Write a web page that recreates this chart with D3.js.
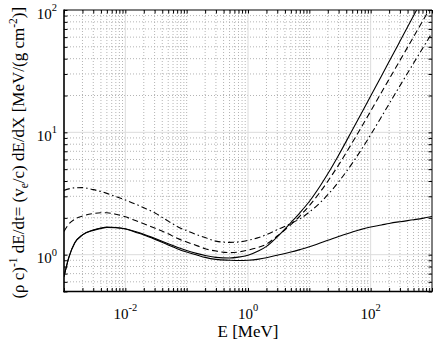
<!DOCTYPE html>
<html><head><meta charset="utf-8">
<script src="https://cdn.jsdelivr.net/npm/d3@7"></script>
<style>body{margin:0;background:#fff} svg{display:block} text{font-family:"Liberation Serif","Times New Roman",Times,serif}</style>
</head><body><svg id="chart" width="436" height="344"></svg>
<script>
// ---- data ----
const energy = [0.001, 0.0012, 0.0015, 0.002, 0.003, 0.004, 0.005, 0.007, 0.01, 0.015, 0.02, 0.03, 0.05, 0.07, 0.1, 0.15, 0.2, 0.3, 0.5, 0.7, 1, 1.5, 2, 3, 5, 7, 10, 15, 20, 30, 50, 70, 100, 150, 200, 300, 500, 700, 1000];
const lossSolidLow = [0.66, 0.95, 1.25, 1.45, 1.58, 1.64, 1.67, 1.66, 1.62, 1.52, 1.45, 1.34, 1.20, 1.12, 1.05, 0.99, 0.95, 0.915, 0.90, 0.895, 0.90, 0.92, 0.945, 0.99, 1.05, 1.10, 1.16, 1.245, 1.31, 1.41, 1.53, 1.61, 1.685, 1.75, 1.80, 1.86, 1.93, 1.98, 2.05];
const lossSolidHigh = [0.66, 0.95, 1.25, 1.45, 1.59, 1.65, 1.68, 1.67, 1.63, 1.54, 1.47, 1.36, 1.23, 1.15, 1.08, 1.02, 0.985, 0.95, 0.94, 0.955, 0.99, 1.075, 1.17, 1.40, 1.83, 2.2, 2.72, 3.64, 4.58, 6.5, 10.4, 14.2, 19.8, 28.9, 37.9, 55.5, 89.7, 123, 172];
const lossDashed = [1.55, 1.78, 1.95, 2.07, 2.17, 2.2, 2.2, 2.14, 2.04, 1.89, 1.79, 1.65, 1.48, 1.36, 1.27, 1.18, 1.12, 1.07, 1.04, 1.05, 1.09, 1.15, 1.22, 1.42, 1.76, 2.07, 2.52, 3.25, 3.98, 5.41, 8.23, 10.95, 14.9, 21.2, 27.2, 38.7, 60.3, 80.8, 110];
const lossDashDot = [3.35, 3.45, 3.52, 3.53, 3.40, 3.28, 3.17, 2.99, 2.80, 2.58, 2.42, 2.2, 1.88, 1.70, 1.57, 1.45, 1.38, 1.29, 1.26, 1.27, 1.31, 1.38, 1.46, 1.60, 1.80, 1.96, 2.23, 2.66, 3.09, 3.94, 5.58, 7.18, 9.55, 13.4, 17.1, 24.0, 36.7, 48.4, 64.9];
const xDomain = [1e-3, 1e3];
const yDomain = [0.5, 100];
const xTickValues = [1e-2, 1, 1e2];
const xTickExponents = ["-2", "0", "2"];
const yTickValues = [1, 10, 100];
const yTickExponents = ["0", "1", "2"];
const xLabel = "E [MeV]";

// ---- layout ----
const L = 64, R = 432, T = 10, B = 291.5;
const FONT = '"Liberation Serif","Times New Roman",Times,serif';
const svg = d3.select("#chart");
const x = d3.scaleLog().domain(xDomain).range([L, R]);
const y = d3.scaleLog().domain(yDomain).range([B, T]);

// minor tick positions
const xAll = [];
for (let k = -3; k <= 2; k++) for (let m = 1; m <= 9; m++) xAll.push(m * Math.pow(10, k));
xAll.push(1000);
const yAll = [];
for (let k = -1; k <= 1; k++) for (let m = 1; m <= 9; m++) { const v = m * Math.pow(10, k); if (v >= 0.5) yAll.push(v); }
yAll.push(100);
const isMajor = (v, arr) => arr.some(t => Math.abs(Math.log10(v) - Math.log10(t)) < 1e-6);

// grid
const g = svg.append("g");
xAll.filter(v => !isMajor(v, xTickValues) && v > xDomain[0] * 1.001 && v < xDomain[1] * 0.999).forEach(v => {
  g.append("line").attr("x1", x(v)).attr("x2", x(v)).attr("y1", T).attr("y2", B)
    .attr("stroke", "#b4b4b4").attr("stroke-width", 1).attr("stroke-dasharray", "1,2");
});
yAll.filter(v => !isMajor(v, yTickValues) && v > yDomain[0] * 1.001 && v < yDomain[1] * 0.999).forEach(v => {
  g.append("line").attr("y1", y(v)).attr("y2", y(v)).attr("x1", L).attr("x2", R)
    .attr("stroke", "#b4b4b4").attr("stroke-width", 1).attr("stroke-dasharray", "1,2");
});
xTickValues.forEach(v => {
  g.append("line").attr("x1", x(v)).attr("x2", x(v)).attr("y1", T).attr("y2", B)
    .attr("stroke", "#dcdcdc").attr("stroke-width", 1);
});
yTickValues.filter(v => v < yDomain[1]).forEach(v => {
  g.append("line").attr("y1", y(v)).attr("y2", y(v)).attr("x1", L).attr("x2", R)
    .attr("stroke", "#dcdcdc").attr("stroke-width", 1);
});

// curves
svg.append("clipPath").attr("id", "clip").append("rect")
  .attr("x", L).attr("y", T).attr("width", R - L).attr("height", B - T);
const line = d3.line().x(d => x(d[0])).y(d => y(d[1])).curve(d3.curveMonotoneX);
const series = [
  { v: lossSolidLow, dash: null },
  { v: lossSolidHigh, dash: null },
  { v: lossDashed, dash: "6,3.5" },
  { v: lossDashDot, dash: "6,3,1.5,3" }
];
const cg = svg.append("g").attr("clip-path", "url(#clip)");
series.forEach(s => {
  cg.append("path").datum(energy.map((e, i) => [e, s.v[i]]))
    .attr("d", line).attr("fill", "none").attr("stroke", "#000")
    .attr("stroke-width", 1.1).attr("stroke-dasharray", s.dash);
});

// axes (inward ticks on all sides)
const tk = 3.5;
const styleAxis = sel => { sel.select(".domain").remove(); sel.selectAll("line").attr("stroke", "#000").attr("stroke-width", 1); sel.selectAll("text").remove(); };
svg.append("g").attr("transform", `translate(0,${B})`)
  .call(d3.axisBottom(x).tickValues(xAll).tickSize(-tk).tickFormat(() => "")).call(styleAxis);
svg.append("g").attr("transform", `translate(0,${T})`)
  .call(d3.axisTop(x).tickValues(xAll).tickSize(-tk).tickFormat(() => "")).call(styleAxis);
svg.append("g").attr("transform", `translate(${L},0)`)
  .call(d3.axisLeft(y).tickValues(yAll).tickSize(-tk).tickFormat(() => "")).call(styleAxis);
svg.append("g").attr("transform", `translate(${R},0)`)
  .call(d3.axisRight(y).tickValues(yAll).tickSize(-tk).tickFormat(() => "")).call(styleAxis);

// box
svg.append("line").attr("x1", L).attr("x2", R).attr("y1", T).attr("y2", T).attr("stroke", "#000").attr("stroke-width", 1);
svg.append("line").attr("x1", R).attr("x2", R).attr("y1", T).attr("y2", B).attr("stroke", "#000").attr("stroke-width", 1);
svg.append("line").attr("x1", L).attr("x2", L).attr("y1", T - 0.5).attr("y2", B + 0.75).attr("stroke", "#000").attr("stroke-width", 1.6);
svg.append("line").attr("x1", L - 0.75).attr("x2", R + 0.5).attr("y1", B).attr("y2", B).attr("stroke", "#000").attr("stroke-width", 1.6);

// tick labels
xTickValues.forEach((v, i) => {
  const t = svg.append("text").attr("x", x(v)).attr("y", 318.5).attr("text-anchor", "middle")
    .style("font-family", FONT).attr("font-size", 15).attr("fill", "#000");
  t.append("tspan").text("10");
  t.append("tspan").attr("dy", -7.5).attr("font-size", 10.5).text(xTickExponents[i]);
});
yTickValues.forEach((v, i) => {
  const t = svg.append("text").attr("x", 57).attr("y", y(v) + 8.5).attr("text-anchor", "end")
    .style("font-family", FONT).attr("font-size", 15).attr("fill", "#000");
  t.append("tspan").text("10");
  t.append("tspan").attr("dy", -7.5).attr("font-size", 10.5).text(yTickExponents[i]);
});

// axis titles
svg.append("text").attr("x", (L + R) / 2).attr("y", 337).attr("text-anchor", "middle")
  .style("font-family", FONT).attr("font-size", 17).attr("fill", "#000").text(xLabel);

const yt = svg.append("text").attr("transform", `translate(23.5,${(T + B) / 2 + 2}) rotate(-90)`)
  .attr("text-anchor", "middle").style("font-family", FONT).attr("font-size", 17).attr("fill", "#000");
yt.append("tspan").text("(\u03C1 c)");
yt.append("tspan").attr("dy", -7).attr("font-size", 11.5).text("-1");
yt.append("tspan").attr("dy", 7).text(" dE/dt= (v");
yt.append("tspan").attr("dy", 4).attr("font-size", 11.5).text("e");
yt.append("tspan").attr("dy", -4).text("/c) dE/dX [MeV/(g cm");
yt.append("tspan").attr("dy", -7).attr("font-size", 11.5).text("-2");
yt.append("tspan").attr("dy", 7).text(")]");
</script>
</body></html>
